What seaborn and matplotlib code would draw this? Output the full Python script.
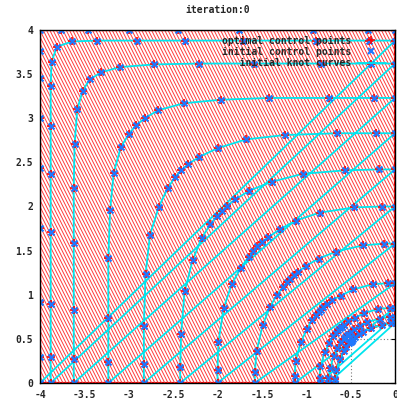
import numpy as np
import matplotlib
matplotlib.use('Agg')
import matplotlib.pyplot as plt
from matplotlib.lines import Line2D
import seaborn as sns
import pandas as pd
from matplotlib.patches import Polygon
from matplotlib.collections import LineCollection

# control points of each knot curve (inner -> outer)
X0 = [-0.68,-0.68,-0.66,-0.62,-0.58,-0.55,-0.52,-0.50,-0.48,-0.47,-0.45,-0.41,-0.36,-0.27,-0.15,-0.05,0.00]
Y0 = [0.00,0.05,0.15,0.27,0.36,0.41,0.45,0.47,0.48,0.50,0.52,0.55,0.58,0.62,0.66,0.68,0.68]
X1 = [-0.75,-0.75,-0.73,-0.69,-0.65,-0.61,-0.58,-0.56,-0.54,-0.52,-0.50,-0.46,-0.40,-0.31,-0.17,-0.06,0.00]
Y1 = [0.00,0.06,0.17,0.31,0.40,0.46,0.50,0.52,0.54,0.56,0.58,0.61,0.65,0.69,0.73,0.75,0.75]
X2 = [-0.85,-0.85,-0.84,-0.79,-0.74,-0.70,-0.66,-0.64,-0.62,-0.60,-0.57,-0.53,-0.45,-0.35,-0.19,-0.06,0.00]
Y2 = [0.00,0.06,0.19,0.35,0.45,0.53,0.57,0.60,0.62,0.64,0.66,0.70,0.74,0.79,0.84,0.85,0.85]
X3 = [-1.13,-1.13,-1.12,-1.06,-0.99,-0.94,-0.89,-0.86,-0.83,-0.81,-0.77,-0.71,-0.61,-0.47,-0.25,-0.08,0.00]
Y3 = [0.00,0.08,0.25,0.47,0.61,0.71,0.77,0.81,0.83,0.86,0.89,0.94,0.99,1.06,1.12,1.13,1.13]
X4 = [-1.58,-1.58,-1.56,-1.49,-1.41,-1.33,-1.26,-1.22,-1.18,-1.14,-1.09,-1.00,-0.86,-0.66,-0.36,-0.12,0.00]
Y4 = [0.00,0.12,0.36,0.66,0.86,1.00,1.09,1.14,1.18,1.22,1.26,1.33,1.41,1.49,1.56,1.58,1.58]
X5 = [-2.00,-2.00,-1.99,-1.93,-1.84,-1.74,-1.65,-1.60,-1.55,-1.50,-1.43,-1.30,-1.12,-0.85,-0.46,-0.15,0.00]
Y5 = [0.00,0.15,0.46,0.85,1.12,1.30,1.43,1.50,1.55,1.60,1.65,1.74,1.84,1.93,1.99,2.00,2.00]
X6 = [-2.42,-2.42,-2.41,-2.37,-2.28,-2.18,-2.08,-2.01,-1.95,-1.89,-1.80,-1.64,-1.39,-1.04,-0.56,-0.18,0.00]
Y6 = [0.00,0.18,0.56,1.04,1.39,1.64,1.80,1.89,1.95,2.01,2.08,2.18,2.28,2.37,2.41,2.42,2.42]
X7 = [-2.83,-2.83,-2.83,-2.81,-2.76,-2.66,-2.56,-2.48,-2.41,-2.33,-2.21,-2.00,-1.68,-1.24,-0.65,-0.21,0.00]
Y7 = [0.00,0.21,0.65,1.24,1.68,2.00,2.21,2.33,2.41,2.48,2.56,2.66,2.76,2.81,2.83,2.83,2.83]
X8 = [-3.23,-3.23,-3.23,-3.23,-3.21,-3.17,-3.09,-3.00,-2.92,-2.82,-2.67,-2.38,-1.96,-1.42,-0.74,-0.24,0.00]
Y8 = [0.00,0.24,0.74,1.42,1.96,2.38,2.67,2.82,2.92,3.00,3.09,3.17,3.21,3.23,3.23,3.23,3.23]
X9 = [-3.62,-3.62,-3.62,-3.62,-3.62,-3.61,-3.58,-3.52,-3.44,-3.31,-3.10,-2.71,-2.21,-1.59,-0.83,-0.27,0.00]
Y9 = [0.00,0.27,0.83,1.59,2.21,2.71,3.10,3.31,3.44,3.52,3.58,3.61,3.62,3.62,3.62,3.62,3.62]
X10 = [-3.88,-3.88,-3.88,-3.88,-3.88,-3.88,-3.88,-3.87,-3.81,-3.64,-3.36,-2.91,-2.37,-1.71,-0.89,-0.29,0.00]
Y10 = [0.00,0.29,0.89,1.71,2.37,2.91,3.36,3.64,3.81,3.87,3.88,3.88,3.88,3.88,3.88,3.88,3.88]
X11 = [-4.00,-4.00,-4.00,-4.00,-4.00,-4.00,-4.00,-4.00,-4.00,-3.76,-3.46,-3.00,-2.44,-1.76,-0.92,-0.30,0.00]
Y11 = [0.00,0.30,0.92,1.76,2.44,3.00,3.46,3.76,4.00,4.00,4.00,4.00,4.00,4.00,4.00,4.00,4.00]

XS = [X0, X1, X2, X3, X4, X5, X6, X7, X8, X9, X10, X11]
YS = [Y0, Y1, Y2, Y3, Y4, Y5, Y6, Y7, Y8, Y9, Y10, Y11]

title = 'iteration:0'
xticks = [-4, -3.5, -3, -2.5, -2, -1.5, -1, -0.5, 0]
xticklabels = ['-4', '-3.5', '-3', '-2.5', '-2', '-1.5', '-1', '-0.5', '0']
yticks = [0, 0.5, 1, 1.5, 2, 2.5, 3, 3.5, 4]
yticklabels = ['0', '0.5', '1', '1.5', '2', '2.5', '3', '3.5', '4']
legend_labels = ['optimal control points', 'initial control points', '   initial knot curves']

allx = [v for xs in XS for v in xs]
ally = [v for ys in YS for v in ys]
df = pd.DataFrame({'x': allx, 'y': ally})

sns.set_style("white")
plt.rcParams['font.family'] = ['DejaVu Sans Mono']
plt.rcParams['font.weight'] = 'bold'
fig = plt.figure(figsize=(3.97, 4.04), dpi=100)
ax = fig.add_axes([40/397, 21/404, 355/397, 353/404])
ax.set_xlim(-4, 0); ax.set_ylim(0, 4)
ax.set_xticks(xticks); ax.set_xticklabels(xticklabels)
ax.set_yticks(yticks); ax.set_yticklabels(yticklabels)
ax.grid(True, ls=(0, (1, 2)), color='#777777', lw=0.8, zorder=0)
ax.set_axisbelow(True)

# filled domain (outer boundary + hole boundary)
poly = np.column_stack([np.concatenate([X11, X0[::-1]]), np.concatenate([Y11, Y0[::-1]])])
patch = Polygon(poly, closed=True, facecolor='white', edgecolor='red', lw=1.6, zorder=1)
ax.add_patch(patch)
cc = np.arange(-4.0, 2.05, 0.037)
segs = [[(ci, 0), (ci - 2.0, 4.0)] for ci in cc]
lc = LineCollection(segs, colors='#ff3c3c', linewidths=0.7, zorder=1.5)
lc.set_clip_path(patch)
ax.add_collection(lc)

sns.lineplot(data=df, x='x', y='y', sort=False, estimator=None, color='#00e5ee',
             lw=1.3, ax=ax, zorder=3, legend=False)
sns.scatterplot(data=df, x='x', y='y', marker='+', color='red', s=30, linewidth=1.2,
                ax=ax, zorder=4, legend=False)
sns.scatterplot(data=df, x='x', y='y', marker='x', color='#1e78ff', s=18, linewidth=1.6,
                ax=ax, zorder=5, legend=False)
ax.set_xlabel(''); ax.set_ylabel('')

for sp in ax.spines.values():
    sp.set_color('black'); sp.set_linewidth(1.0); sp.set_zorder(6)
ax.tick_params(direction='in', length=3, width=0.8, top=True, right=True,
               labelsize=7, pad=5, color='black')
for lab in ax.get_xticklabels() + ax.get_yticklabels():
    lab.set_fontweight('bold')
ax.set_title(title, fontsize=7, fontweight='bold', pad=12)

handles = [Line2D([], [], ls='none', marker='+', color='red', ms=5.5, mew=1.2),
           Line2D([], [], ls='none', marker='x', color='#1e78ff', ms=4.5, mew=1.6),
           Line2D([], [], color='#00e5ee', lw=1.3)]
leg = ax.legend(handles, legend_labels, loc='upper right', bbox_to_anchor=(0.985, 0.995),
                frameon=False, markerfirst=False, handlelength=3.0, handletextpad=0.6,
                labelspacing=0.12, borderaxespad=0, prop={'size': 7, 'weight': 'bold',
                                                          'family': 'DejaVu Sans Mono'})
leg.set_zorder(7)
fig.savefig('out.png', dpi=100)
